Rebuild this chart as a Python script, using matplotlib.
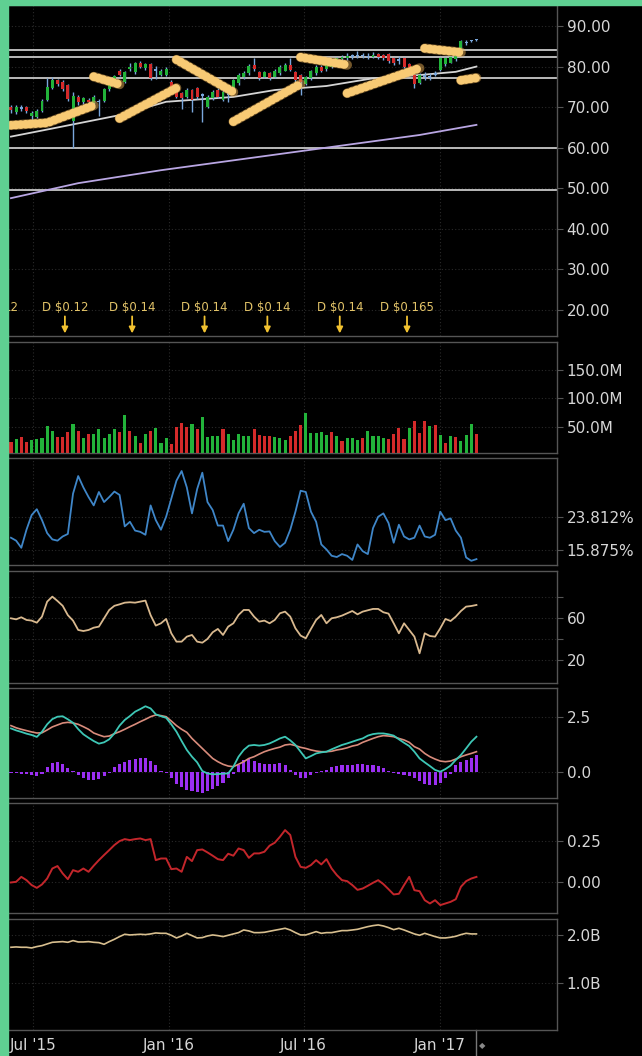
import matplotlib
matplotlib.use("Agg")
import matplotlib.pyplot as plt
import matplotlib.transforms as mtransforms
from matplotlib.patches import Rectangle
import pandas as pd

# ---- data (weekly) ----
weeks = pd.date_range("2015-06-01", periods=91, freq="7D")

opens = [70.0, 68.8, 69.8, 69.9, 67.8, 67.6, 69.0, 71.8, 74.8, 76.6,
         76.2, 75.4, 66.5, 72.6, 71.2, 71.8, 71.1, 71.2, 71.6, 74.4,
         76.0, 79.0, 76.2, 79.4, 78.6, 81.0, 79.6, 80.6, 79.0, 78.0,
         78.0, 76.2, 73.8, 73.4, 72.6, 74.2, 74.6, 72.8, 70.1, 72.2,
         74.2, 71.7, 73.0, 73.8, 75.9, 77.5, 78.3, 80.4, 78.7, 77.5,
         78.3, 77.5, 78.3, 79.0, 80.4, 78.7, 77.9, 75.8, 77.2, 78.3,
         80.0, 79.3, 80.0, 81.2, 81.8, 82.0, 82.4, 82.6, 82.5, 82.7,
         82.4, 83.0, 82.8, 83.0, 82.0, 81.4, 82.0, 80.6, 77.8, 76.0,
         77.4, 77.2, 78.4, 79.2, 80.6, 81.0, 81.8, 83.6, 85.8, 86.2,
         86.5]
closes = [69.2, 70.0, 69.6, 69.0, 68.6, 69.0, 71.6, 75.0, 76.6, 75.6,
          74.4, 72.0, 72.8, 71.2, 72.2, 71.3, 72.6, 71.4, 74.4, 76.4,
          77.6, 78.0, 78.6, 79.9, 80.8, 80.0, 80.6, 77.2, 79.4, 79.0,
          79.4, 75.0, 72.6, 72.2, 74.2, 71.8, 72.6, 73.0, 72.6, 73.8,
          72.6, 73.8, 73.4, 76.7, 77.9, 78.5, 80.2, 79.4, 77.1, 78.6,
          77.1, 79.0, 80.0, 80.4, 79.2, 76.7, 76.3, 77.3, 78.8, 80.0,
          79.0, 81.0, 81.5, 82.0, 82.3, 82.6, 82.8, 82.9, 82.8, 82.4,
          82.9, 82.4, 82.2, 81.4, 80.8, 81.8, 80.0, 79.0, 75.6, 78.0,
          77.8, 77.6, 78.0, 82.0, 82.0, 82.3, 82.6, 86.2, 86.0, 86.3,
          86.6]
highs = [70.5, 70.5, 70.4, 70.2, 69.0, 69.4, 72.0, 77.2, 77.3, 77.0,
         76.6, 75.8, 73.6, 73.0, 72.6, 72.2, 73.0, 72.0, 74.8, 76.8,
         78.0, 79.4, 79.0, 81.0, 81.2, 81.3, 81.0, 80.9, 80.2, 79.5,
         79.8, 76.6, 74.2, 73.6, 74.6, 74.5, 74.9, 73.5, 73.0, 74.2,
         74.6, 74.2, 74.4, 77.0, 78.3, 79.0, 80.6, 82.2, 79.0, 79.0,
         78.6, 79.4, 80.4, 80.8, 82.0, 79.0, 78.2, 77.6, 79.2, 80.4,
         80.3, 81.4, 81.8, 82.4, 82.8, 83.4, 83.2, 83.8, 83.4, 83.3,
         83.6, 83.4, 83.2, 83.3, 82.3, 82.6, 82.3, 80.9, 78.0, 78.3,
         78.6, 78.4, 79.0, 82.4, 82.4, 82.6, 83.0, 86.6, 86.5, 86.6,
         86.8]
lows = [68.5, 68.3, 69.0, 68.6, 66.5, 67.2, 68.8, 71.5, 74.5, 75.2,
        74.0, 71.6, 59.8, 70.6, 70.8, 70.9, 70.8, 67.8, 71.2, 74.0,
        75.6, 77.6, 76.0, 79.0, 78.2, 79.6, 79.2, 76.8, 77.0, 77.6,
        77.6, 74.6, 72.2, 69.4, 72.2, 68.8, 72.0, 66.4, 69.8, 71.8,
        72.2, 71.4, 71.3, 73.4, 75.5, 77.0, 78.0, 79.0, 76.8, 77.2,
        76.8, 77.2, 78.0, 78.8, 78.8, 76.3, 73.0, 75.4, 76.8, 78.0,
        78.6, 79.0, 79.6, 80.8, 81.4, 81.6, 81.8, 82.0, 82.0, 81.8,
        82.0, 81.9, 81.6, 81.0, 80.4, 80.6, 79.6, 78.6, 74.6, 75.6,
        76.8, 76.6, 77.6, 79.0, 80.2, 80.8, 81.4, 83.3, 85.4, 86.0,
        86.3]

# moving averages, sampled at a few weeks
ma_fast_wk = [0, 8, 21, 30, 43, 51, 61, 70, 79, 86, 90]
ma_fast = [62.7, 64.7, 68.0, 71.3, 72.5, 74.2, 75.2, 77.1, 77.9, 78.7, 80.0]
ma_slow_wk = [0, 13, 29, 60, 79, 90]
ma_slow = [47.5, 51.2, 54.4, 59.8, 63.1, 65.6]

levels = [84.1, 82.3, 77.2, 59.9, 49.5]

# hand-drawn trend beads: week indices and prices
bead_wk = [[0, 7, 16], [16, 21], [21, 32], [32, 43], [43, 56],
           [56, 65], [65, 79], [80, 87], [87, 90]]
bead_px = [[65.5, 66.1, 70.4], [77.5, 75.6], [67.2, 74.7], [81.7, 73.7],
           [66.4, 75.7], [82.3, 80.4], [73.4, 79.6], [84.5, 83.5],
           [76.6, 77.2]]

div_dates = ["2015-08-13", "2015-11-12", "2016-02-18",
             "2016-05-13", "2016-08-19", "2016-11-18"]
div_labels = ["D $0.12", "D $0.14", "D $0.14", "D $0.14",
              "D $0.14", "D $0.165"]
# earlier dividend whose label is mostly off the left edge
div_cut_date = "2015-06-12"
div_cut_label = "12"

volume_m = [24.3, 28.4, 31.9, 23.1, 27.2, 28.4, 30.1, 52.3, 43.5, 33.0,
            33.0, 40.7, 55.2, 43.5, 30.1, 37.7, 37.7, 45.9, 30.1, 37.7,
            45.9, 40.7, 71.0, 43.5, 34.8, 21.3, 37.7, 43.5, 47.6, 22.5,
            30.0,
            20.2, 50.6, 56.4, 50.6, 55.2, 46.5, 67.0, 33.0, 34.8, 34.8,
            46.5, 37.7, 27.2, 37.7, 34.8, 34.8, 46.5, 36.0, 34.8, 34.8,
            33.0, 30.1, 27.2, 34.8, 43.5, 53.5, 75.1, 38.9, 38.9, 40.7,
            36.0,
            40.7, 34.8, 26.0, 30.1, 30.1, 27.2, 30.1, 43.5, 34.8, 34.2,
            30.1, 28.9, 37.7, 47.6, 28.9, 47.6, 61.1, 38.9, 61.1, 51.7,
            53.5, 36.0, 21.3, 34.8, 33.0, 26.0, 36.0, 54.7, 37.7]
volume_dir = ("RGRRGGGGGR" "RRGRGRGGGG" "GRGRGRGRGG" "G" "RRRRGRGGGG"
              "RGGGGGRRRR" "GGGRRRGGGG" "G" "RGRGGGRGGG" "GRRRRGRRRG"
              "RGRGRGGGR")

volatility = [18.8, 18.1, 16.4, 20.7, 24.2, 25.6, 23.0, 19.9, 18.4, 18.1,
              19.1, 19.7, 29.3, 33.5, 30.8, 28.5, 26.5, 29.7, 27.3, 28.5,
              29.8, 29.0, 21.5, 22.6, 20.5, 20.2, 19.5, 26.5, 23.0, 20.7,
              23.8, 28.1, 32.4, 34.7, 30.8, 24.6, 30.4, 34.3, 27.3, 25.4,
              21.7, 21.7, 18.0, 20.7, 24.6, 26.9, 21.1, 19.9, 20.7, 20.2,
              20.3, 18.0, 16.6, 17.6, 20.7, 25.0, 30.0, 29.7, 25.0, 22.6,
              17.2, 16.0, 14.5, 14.2, 14.9, 14.5, 13.5, 17.2, 15.6, 14.9,
              21.1, 23.8, 24.6, 22.3, 17.6, 21.9, 19.1, 18.4, 18.8, 21.7,
              19.1, 18.8, 19.5, 25.0, 23.0, 23.4, 20.5, 18.8, 14.1, 13.3,
              13.7]

rsi = [60.0, 59.0, 61.0, 58.4, 57.8, 55.8, 61.6, 76.0, 80.8, 76.6,
       72.0, 63.0, 57.8, 48.8, 47.8, 48.8, 51.0, 52.0, 60.0, 68.0,
       72.0, 73.4, 75.0, 75.4, 75.0, 76.0, 77.0, 63.0, 53.0, 55.2,
       59.4, 45.6, 37.6, 37.6, 42.4, 44.0, 37.6, 36.6, 40.2, 46.6,
       49.8, 44.0, 52.0, 55.2, 63.2, 68.0, 68.0, 61.6, 56.8, 57.8,
       55.2, 58.4, 64.8, 66.4, 61.6, 50.4, 43.4, 40.8, 49.8, 58.4,
       63.2, 55.2, 60.0, 61.0, 62.6, 64.8, 67.0, 63.8, 66.4, 67.7,
       69.0, 69.0, 65.8, 64.5, 55.2, 45.6, 55.2, 48.8, 42.4, 26.4,
       45.6, 43.0, 42.4, 50.4, 59.4, 57.4, 61.6, 67.0, 71.2, 71.8,
       72.8]

macd = [1.99, 1.90, 1.83, 1.75, 1.69, 1.60, 1.84, 2.18, 2.42, 2.53,
        2.55, 2.41, 2.25, 1.96, 1.72, 1.56, 1.41, 1.29, 1.35, 1.49,
        1.76, 2.12, 2.38, 2.56, 2.76, 2.88, 3.01, 2.91, 2.64, 2.55,
        2.48, 2.18, 1.84, 1.41, 1.00, 0.69, 0.43, 0.03, -0.08, -0.12,
        -0.11, -0.09, -0.08, 0.23, 0.69, 1.00, 1.20, 1.23, 1.20, 1.23,
        1.30, 1.41, 1.53, 1.61, 1.44, 1.23, 0.92, 0.61, 0.72, 0.84,
        0.89, 0.92, 1.03, 1.13, 1.23, 1.30, 1.38, 1.46, 1.53, 1.66,
        1.73, 1.76, 1.76, 1.72, 1.66, 1.49, 1.33, 1.18, 0.92, 0.61,
        0.43, 0.26, 0.08, 0.00, 0.12, 0.28, 0.54, 0.77, 1.07, 1.38,
        1.61]
signal = [2.12, 2.02, 1.95, 1.89, 1.83, 1.78, 1.79, 1.92, 2.06, 2.15,
          2.24, 2.27, 2.24, 2.18, 2.07, 1.95, 1.78, 1.69, 1.61, 1.64,
          1.75, 1.84, 1.95, 2.07, 2.18, 2.30, 2.41, 2.53, 2.61, 2.58,
          2.53, 2.33, 2.12, 1.95, 1.81, 1.53, 1.30, 1.07, 0.84, 0.61,
          0.46, 0.34, 0.26, 0.23, 0.34, 0.46, 0.61, 0.69, 0.81, 0.92,
          1.00, 1.07, 1.13, 1.23, 1.26, 1.20, 1.12, 1.07, 1.00, 0.95,
          0.92, 0.92, 0.94, 1.00, 1.04, 1.10, 1.18, 1.23, 1.35, 1.44,
          1.53, 1.61, 1.66, 1.64, 1.61, 1.53, 1.46, 1.35, 1.15, 1.04,
          0.84, 0.69, 0.58, 0.49, 0.46, 0.49, 0.58, 0.69, 0.77, 0.84,
          0.92]
macd_hist = [-0.05, -0.08, -0.10, -0.12, -0.15, -0.20, -0.10,
             0.20, 0.40, 0.45, 0.35, 0.15, 0.02,
             -0.15, -0.30, -0.38, -0.38, -0.35, -0.20, -0.05,
             0.20, 0.35, 0.45, 0.55, 0.60, 0.65, 0.65, 0.50, 0.30, 0.05,
             -0.05, -0.30, -0.55, -0.70, -0.85, -0.90, -0.95, -1.00, -0.90,
             -0.80, -0.65, -0.50, -0.30, -0.10,
             0.30, 0.55, 0.60, 0.50, 0.40, 0.35, 0.35, 0.35, 0.40, 0.30, 0.10,
             -0.15, -0.30, -0.30, -0.15, -0.05, 0.02,
             0.10, 0.20, 0.25, 0.30, 0.30, 0.33, 0.35, 0.35, 0.32, 0.30,
             0.25, 0.15, 0.05,
             -0.05, -0.10, -0.15, -0.20, -0.30, -0.45, -0.55, -0.60, -0.60,
             -0.50, -0.30, -0.10,
             0.30, 0.45, 0.55, 0.65, 0.75]

red_ind = [-0.004, 0.000, 0.030, 0.010, -0.020, -0.037, -0.016, 0.020, 0.081, 0.096,
           0.051, 0.016, 0.071, 0.061, 0.081, 0.061, 0.098, 0.132, 0.163, 0.193,
           0.224, 0.248, 0.260, 0.254, 0.260, 0.264, 0.254, 0.260, 0.132, 0.142,
           0.142, 0.077, 0.081, 0.061, 0.152, 0.126, 0.193, 0.197, 0.179, 0.159,
           0.138, 0.132, 0.171, 0.159, 0.203, 0.193, 0.146, 0.173, 0.173, 0.183,
           0.220, 0.238, 0.274, 0.315, 0.285, 0.152, 0.091, 0.085, 0.102, 0.132,
           0.106, 0.138, 0.081, 0.041, 0.010, 0.004, -0.020, -0.049, -0.041, -0.024,
           -0.006, 0.010, -0.014, -0.045, -0.077, -0.073, -0.020, 0.030, -0.051, -0.057,
           -0.112, -0.132, -0.112, -0.142, -0.132, -0.122, -0.106, -0.030, 0.004, 0.020,
           0.030]

shares_b = [1.745, 1.752, 1.745, 1.745, 1.731, 1.759, 1.779, 1.814, 1.848, 1.855,
            1.862, 1.848, 1.883, 1.855, 1.855, 1.862, 1.848, 1.841, 1.807, 1.862,
            1.910, 1.966, 2.014, 2.000, 2.007, 2.014, 2.007, 2.021, 2.041, 2.034,
            2.034, 1.993, 1.938, 1.979, 2.034, 1.986, 1.938, 1.945, 1.979, 2.000,
            1.986, 1.966, 1.993, 2.021, 2.048, 2.103, 2.083, 2.048, 2.048, 2.055,
            2.076, 2.097, 2.117, 2.138, 2.103, 2.048, 2.000, 2.000, 2.034, 2.069,
            2.034, 2.048, 2.048, 2.069, 2.090, 2.090, 2.103, 2.117, 2.145, 2.172,
            2.193, 2.207, 2.186, 2.152, 2.110, 2.138, 2.103, 2.062, 2.021, 1.993,
            2.034, 2.000, 1.966, 1.938, 1.938, 1.952, 1.972, 2.007, 2.034, 2.021,
            2.021]

grid_dates = pd.to_datetime(["2015-07-01", "2016-01-01", "2016-07-01", "2017-01-01"])
grid_labels = ["Jul '15", "Jan '16", "Jul '16", "Jan '17"]

# ---- layout ----
W, H = 642, 1056
fig = plt.figure(figsize=(W / 100, H / 100), dpi=100, facecolor="black")

x_left, x_right = 8, 557
panels = {
    "price": (5, 336), "volume": (342, 453), "vola": (458, 565), "rsi": (571, 683),
    "macd": (688, 798), "red": (803, 913), "shares": (919, 1030),
}
xmin, xmax = pd.Timestamp("2015-05-28"), pd.Timestamp("2017-06-09")

TXT = "#d6d6d6"
SPINE = "#555555"
GRID = "#2a2a2a"


def make_ax(name):
    top, bot = panels[name]
    ax = fig.add_axes([x_left / W, 1 - bot / H, (x_right - x_left) / W, (bot - top) / H])
    ax.set_facecolor("black")
    for s in ["top", "bottom", "right"]:
        ax.spines[s].set_color(SPINE)
        ax.spines[s].set_linewidth(1.0)
    ax.spines["left"].set_visible(False)
    ax.yaxis.tick_right()
    ax.tick_params(axis="y", colors=SPINE, labelcolor=TXT, length=4,
                   labelsize=11, pad=3)
    ax.tick_params(axis="x", length=0, labelbottom=False)
    ax.set_xlim(xmin, xmax)
    ax.set_xticks(grid_dates)
    ax.grid(True, color=GRID, linestyle=(0, (1, 2)), linewidth=0.8)
    ax.set_axisbelow(True)
    return ax


# price
ax = make_ax("price")
ax.set_ylim(13.46, 95.2)
ticks = [20, 30, 40, 50, 60, 70, 80, 90]
ax.set_yticks(ticks, [f"{t:.2f}" for t in ticks])
for lv in levels:
    ax.axhline(lv, color="#c8c8c8", lw=1.3, zorder=2)
ax.plot(weeks[ma_slow_wk], ma_slow, color="#b9a6e3", lw=1.3, zorder=3)
ax.plot(weeks[ma_fast_wk], ma_fast, color="#d4d4d4", lw=1.3, zorder=3)

body_w = pd.Timedelta(days=4)
for d, o, c, h, l in zip(weeks, opens, closes, highs, lows):
    if abs(c - o) < 0.45:
        col = "#7aa7dc"
    elif c > o:
        col = "#22b33a"
    else:
        col = "#d42a2a"
    ax.vlines(d, l, h, color="#7aa7dc", lw=1.0, zorder=4)
    ax.bar(d, max(abs(c - o), 0.3), bottom=min(o, c), width=body_w, color=col,
           zorder=5, linewidth=0)

for wk, px in zip(bead_wk, bead_px):
    ax.plot(weeks[wk], px, color="#e7ad55", lw=7.0, solid_capstyle="round",
            alpha=0.5, zorder=6)
    ax.plot(weeks[wk], px, color="#f8ca74", lw=6.3, linestyle=(0, (0.01, 0.55)),
            dash_capstyle="round", zorder=6)

for d, lab in zip(pd.to_datetime(div_dates), div_labels):
    ax.text(d, 20.4, lab, color="#e3c469", fontsize=8.5, ha="center", va="center",
            zorder=7)
    ax.annotate("", xy=(d, 14.1), xytext=(d, 18.3), zorder=7,
                arrowprops=dict(arrowstyle="-|>", color="#f2c230", lw=1.3,
                                mutation_scale=9, shrinkA=0, shrinkB=0))
ax.text(pd.Timestamp(div_cut_date), 20.4, div_cut_label, color="#e3c469",
        fontsize=8.5, ha="right", va="center", zorder=7)

# volume
ax = make_ax("volume")
ax.set_ylim(4.4e6, 199e6)
ax.set_yticks([50e6, 100e6, 150e6], ["50.0M", "100.0M", "150.0M"])
vcols = ["#22b33a" if c == "G" else "#d42a2a" for c in volume_dir]
ax.bar(weeks, [v * 1e6 for v in volume_m], width=pd.Timedelta(days=4.2),
       color=vcols, linewidth=0, zorder=3)

# volatility
ax = make_ax("vola")
ax.set_ylim(12.3, 37.8)
ax.set_yticks([15.875, 23.812], ["15.875%", "23.812%"])
ax.plot(weeks, volatility, color="#3f86c8", lw=1.3, zorder=3)

# rsi
ax = make_ax("rsi")
ax.set_ylim(-2.1, 105.4)
ax.set_yticks([20, 40, 60, 80], ["20", "", "60", ""])
ax.plot(weeks, rsi, color="#d9b98f", lw=1.3, zorder=3)

# macd
ax = make_ax("macd")
ax.set_ylim(-1.21, 3.85)
ax.set_yticks([0, 2.5], ["0.0", "2.5"])
ax.bar(weeks, macd_hist, width=pd.Timedelta(days=4.2), color="#9b2ff2",
       linewidth=0, zorder=3)
ax.plot(weeks, signal, color="#d98c7c", lw=1.2, zorder=4)
ax.plot(weeks, macd, color="#3ec7b6", lw=1.3, zorder=5)

# red indicator
ax = make_ax("red")
ax.set_ylim(-0.19, 0.48)
ax.set_yticks([0, 0.25], ["0.00", "0.25"])
ax.plot(weeks, red_ind, color="#c3262b", lw=1.4, zorder=3)

# shares
ax = make_ax("shares")
ax.set_ylim(0.033, 2.33)
ax.set_yticks([1.0, 2.0], ["1.0B", "2.0B"])
ax.plot(weeks, shares_b, color="#d8bf8f", lw=1.2, zorder=3)
ax.tick_params(axis="x", labelbottom=True, labelcolor=TXT, labelsize=11, pad=6)
ax.set_xticks(grid_dates, grid_labels)

# "now" marker below the last panel
trans = mtransforms.blended_transform_factory(ax.transData, ax.transAxes)
ax.plot([weeks[-1], weeks[-1]], [0, -0.25], transform=trans, color="#777777",
        lw=1.0, clip_on=False)
ax.text(weeks[-1] + pd.Timedelta(days=8), -0.14, "\u25c6", transform=trans,
        color="#888888", fontsize=6, ha="center", va="center", clip_on=False)

# green frame
fig.add_artist(Rectangle((0, 0), 8 / W, 1, transform=fig.transFigure,
                         color="#5fd092", zorder=20))
fig.add_artist(Rectangle((0, 1 - 5 / H), 1, 5 / H, transform=fig.transFigure,
                         color="#5fd092", zorder=20))

fig.savefig("out.png", dpi=100, facecolor="black")
